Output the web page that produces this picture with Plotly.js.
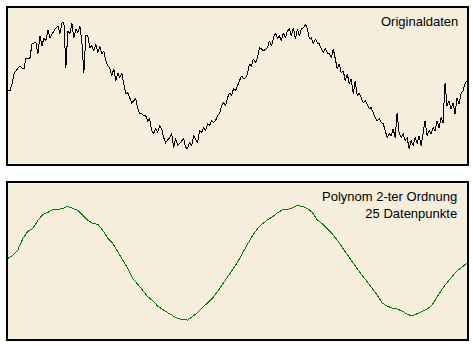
<!DOCTYPE html>
<html>
<head>
<meta charset="utf-8">
<script src="https://cdn.plot.ly/plotly-3.0.1.min.js"></script>
<style>
html,body{margin:0;padding:0;background:#ffffff;}
#chart{width:473px;height:346px;}
#chart .js-line{shape-rendering:crispEdges;}
</style>
</head>
<body>
<div id="chart"></div>
<script>
// Original (noisy) data, one sample per index
const originalValues = [
 -4,-4,3,13,16,19,21,19,18,29,28,29,43,44,44,33,51,41,49,46,
 57,49,53,56,59,61,53,64,65,19,56,53,64,49,58,54,61,46,14,51,
 51,39,41,36,43,34,41,33,36,26,21,19,11,18,6,14,9,14,3,-7,
 -6,-12,-16,-14,-12,-22,-27,-27,-29,-29,-34,-32,-44,-47,-42,-46,-39,-42,-51,-56,
 -54,-51,-47,-61,-52,-59,-57,-54,-52,-61,-62,-56,-59,-49,-52,-56,-44,-46,-41,-44,
 -37,-39,-34,-36,-34,-29,-27,-19,-16,-19,-11,-6,-9,-2,-4,1,6,11,8,9,
 13,23,21,28,24,29,39,38,36,38,39,46,41,49,54,49,51,46,54,49,
 56,58,51,59,48,58,51,58,59,63,58,48,49,43,48,44,43,38,34,39,
 34,33,29,38,26,18,23,14,16,6,13,3,8,-7,6,-9,-6,-11,-16,-14,
 -19,-22,-21,-26,-31,-34,-32,-36,-37,-44,-51,-47,-49,-42,-51,-26,-47,-51,-47,-54,
 -51,-62,-54,-59,-51,-57,-49,-59,-47,-34,-49,-44,-47,-41,-44,-34,-41,-31,-36,4,
 -19,-14,-22,-16,-27,-11,-17,-7,-4,3,6
];
// Smoothed data (polynomial 2nd order, 25 points)
const smoothedValues = [
 4,7,12.5,24,31,34,42,48,50,53,53,54,56,54,52,47,42,39,38,32,
 24,19,10,2,-6,-16.5,-22,-28,-34.5,-38.5,-44,-47.5,-50.5,-54,-56.5,-57.3,-58,-54.5,-50.5,-45.5,
 -41,-36,-29.5,-22.5,-15.5,-7.5,0,9.5,18,26.5,33.5,38.5,42.5,45.5,49.5,52.5,53,54.5,57,56,
 54,50,42.5,38.5,34,28.5,22,14.5,7,0.5,-6.5,-13,-19.5,-26,-33,-41,-44,-46,-47,-49,
 -52,-54,-51.5,-49,-47,-43,-35,-27,-20.5,-15,-8.5,-5,-0.7
];
const labelTop = "Originaldaten";
const labelBottom = "Polynom 2-ter Ordnung<br>25 Datenpunkte";

const xOrig = originalValues.map((_, i) => i);
const xSmooth = smoothedValues.map((_, i) => i);

const bg = "#F5EEDD";
const traces = [
  {x: xOrig, y: originalValues, type: "scatter", mode: "lines",
   line: {color: "#000000", width: 1}, xaxis: "x", yaxis: "y", hoverinfo: "skip"},
  {x: xSmooth, y: smoothedValues, type: "scatter", mode: "lines",
   line: {color: "#008000", width: 1}, xaxis: "x2", yaxis: "y2", hoverinfo: "skip"}
];
const axBase = {showgrid: false, zeroline: false, showticklabels: false, ticks: "",
  showline: true, mirror: true, linecolor: "#000000", linewidth: 2, fixedrange: true};
const layout = {
  width: 473, height: 346,
  margin: {l: 8, r: 6, t: 8, b: 7},
  paper_bgcolor: "#ffffff", plot_bgcolor: bg,
  showlegend: false,
  xaxis: Object.assign({}, axBase, {domain: [0, 1], range: [0, originalValues.length - 1], anchor: "y"}),
  yaxis: Object.assign({}, axBase, {domain: [0.5301, 1], range: [-77, 79], anchor: "x"}),
  xaxis2: Object.assign({}, axBase, {domain: [0, 1], range: [0, smoothedValues.length - 1], anchor: "y2"}),
  yaxis2: Object.assign({}, axBase, {domain: [0, 0.4699], range: [-77, 79], anchor: "x2"}),
  annotations: [
    {text: labelTop, xref: "paper", yref: "paper", x: 0.984, y: 0.958, xanchor: "right", yanchor: "middle",
     showarrow: false, align: "right", font: {family: "Liberation Sans, Arial, sans-serif", size: 13, color: "#000000"}},
    {text: labelBottom, xref: "paper", yref: "paper", x: 0.982, y: 0.4045, xanchor: "right", yanchor: "middle",
     showarrow: false, align: "right", font: {family: "Liberation Sans, Arial, sans-serif", size: 13, color: "#000000"}}
  ]
};
Plotly.newPlot("chart", traces, layout, {displayModeBar: false, staticPlot: true});
</script>
</body>
</html>
